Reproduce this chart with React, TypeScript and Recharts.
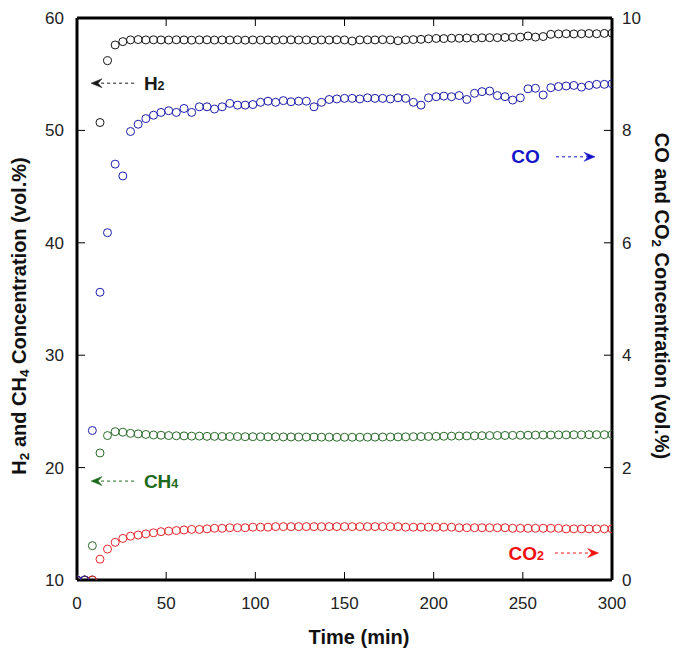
import React from 'react';
import { ScatterChart, Scatter, XAxis, YAxis, ReferenceLine, ReferenceDot } from 'recharts';

// Time (min)
const time = [0, 4.3, 8.6, 12.9, 17.1, 21.4, 25.7, 30, 34.3, 38.6, 42.9, 47.1, 51.4, 55.7, 60, 64.3, 68.6, 72.9, 77.1, 81.4, 85.7, 90, 94.3, 98.6, 102.9, 107.1, 111.4, 115.7, 120, 124.3, 128.6, 132.9, 137.1, 141.4, 145.7, 150, 154.3, 158.6, 162.9, 167.1, 171.4, 175.7, 180, 184.3, 188.6, 192.9, 197.1, 201.4, 205.7, 210, 214.3, 218.6, 222.9, 227.1, 231.4, 235.7, 240, 244.3, 248.6, 252.9, 257.1, 261.4, 265.7, 270, 274.3, 278.6, 282.9, 287.1, 291.4, 295.7, 300];

// H2 (vol.%) - left axis
const h2 = [10, 10, 10,
  50.7, 56.2, 57.6, 57.9,
  58.05, 58.08, 58.05, 58.06, 58.05, 58.04, 58.06, 58.05, 58.03, 58.05, 58.06, 58.04, 58.05, 58.04, 58.06, 58.03, 58.05,
  58.04, 58.05, 58.03, 58.05, 58.06, 58.04, 58.05, 58.02, 58.05, 58.04, 58.06, 58.05,
  57.95, 58.05, 58.06, 58.05, 58.07, 58.05, 57.98, 58.06, 58.08, 58.1,
  58.15, 58.18, 58.17, 58.2, 58.2, 58.22, 58.2, 58.24, 58.25, 58.25,
  58.27, 58.28, 58.3, 58.4, 58.3, 58.35, 58.55,
  58.58, 58.6, 58.58, 58.6, 58.62, 58.6, 58.63, 58.65];

// CH4 (vol.%) - left axis
const ch4 = [10, 10, 13.05,
  21.3, 22.85, 23.2, 23.15,
  23.05, 23.0, 22.95, 22.9, 22.88, 22.85, 22.83, 22.82, 22.8, 22.8, 22.78, 22.78, 22.77, 22.76, 22.76, 22.75, 22.75,
  22.75, 22.74, 22.74, 22.73, 22.73, 22.72, 22.72, 22.72, 22.71, 22.71, 22.7, 22.7,
  22.7, 22.7, 22.71, 22.71, 22.72, 22.72, 22.73, 22.74, 22.75, 22.76,
  22.77, 22.78, 22.79, 22.8, 22.81, 22.82, 22.83, 22.84, 22.85, 22.86,
  22.86, 22.87, 22.88, 22.88, 22.89, 22.9, 22.9,
  22.91, 22.91, 22.92, 22.92, 22.93, 22.93, 22.93, 22.94];

// CO (vol.%) - right axis
const co = [0, 0, 2.66,
  5.12, 6.18, 7.4, 7.19,
  7.98, 8.11, 8.21, 8.27, 8.32, 8.35, 8.32, 8.39, 8.32, 8.42, 8.42, 8.38, 8.42, 8.48, 8.45, 8.45, 8.46,
  8.5, 8.52, 8.5, 8.53, 8.51, 8.52, 8.52, 8.42, 8.5, 8.55, 8.56, 8.57,
  8.57, 8.56, 8.58, 8.57, 8.57, 8.56, 8.58, 8.57, 8.5, 8.45,
  8.58, 8.6, 8.61, 8.6, 8.62, 8.55, 8.66, 8.69, 8.7, 8.62,
  8.6, 8.54, 8.58, 8.74, 8.75, 8.63, 8.76,
  8.78, 8.79, 8.8, 8.77, 8.8, 8.82, 8.82, 8.83];

// CO2 (vol.%) - right axis
const co2 = [0, 0, 0,
  0.37, 0.55, 0.67, 0.74,
  0.78, 0.8, 0.82, 0.84, 0.86, 0.87, 0.88, 0.89, 0.9, 0.9, 0.91, 0.92, 0.92, 0.93, 0.93, 0.93, 0.94,
  0.94, 0.94, 0.95, 0.95, 0.95, 0.95, 0.95, 0.95, 0.95, 0.95, 0.95, 0.95,
  0.95, 0.95, 0.95, 0.95, 0.95, 0.95, 0.95, 0.94, 0.94, 0.94,
  0.94, 0.94, 0.94, 0.94, 0.93, 0.93, 0.93, 0.93, 0.93, 0.93,
  0.93, 0.92, 0.92, 0.92, 0.92, 0.92, 0.92,
  0.92, 0.91, 0.91, 0.91, 0.91, 0.91, 0.91, 0.91];

const xTicks = [0, 50, 100, 150, 200, 250, 300];
const leftTicks = [10, 20, 30, 40, 50, 60];
const rightTicks = [0, 2, 4, 6, 8, 10];

const FONT = '"Liberation Sans", Arial, Helvetica, sans-serif';

const toPoints = (vals: number[]) => time.map((t, i) => ({ t, v: vals[i] }));

const ring = (color: string) => (props: any) => (
  <circle cx={props.cx} cy={props.cy} r={4} fill="none" stroke={color} strokeWidth={1} />
);

type Anno = {
  axis: string; y: number; tail: number; head: number;
  textT: number; textY: number; main: string; sub: string; color: string; arrowColor: string;
};

const annotations: Anno[] = [
  { axis: 'left', y: 54.2, tail: 32, head: 7.9, textT: 37.5, textY: 54.2, main: 'H', sub: '2', color: '#1a1a1a', arrowColor: '#1a1a1a' },
  { axis: 'right', y: 7.53, tail: 268.6, head: 290.5, textT: 243.5, textY: 7.53, main: 'CO', sub: '', color: '#1414c8', arrowColor: '#1414c8' },
  { axis: 'left', y: 18.8, tail: 32, head: 7.9, textT: 37.5, textY: 18.8, main: 'CH', sub: '4', color: '#1c6a1c', arrowColor: '#1c6a1c' },
  { axis: 'right', y: 0.48, tail: 268, head: 292.5, textT: 242, textY: 0.48, main: 'CO', sub: '2', color: '#f01010', arrowColor: '#f01010' },
];

const arrowShape = (color: string) => (p: any) => {
  const { x1, y1, x2, y2 } = p;
  const dir = x2 > x1 ? 1 : -1;
  const L = 11;
  const pts = [
    [x2, y2],
    [x2 - dir * L, y2 - 4.5],
    [x2 - dir * (L - 4), y2],
    [x2 - dir * L, y2 + 4.5],
  ].map((q) => q.join(',')).join(' ');
  return (
    <g>
      <line x1={x1} y1={y1} x2={x2 - dir * 6} y2={y2} stroke={color} strokeWidth={1} strokeDasharray="3 3" />
      <polygon points={pts} fill={color} stroke={color} strokeWidth={0.5} />
    </g>
  );
};

const textShape = (a: Anno) => (p: any) => (
  <text x={p.cx} y={p.cy} dominantBaseline="central" fontFamily={FONT} fontWeight="bold" fontSize={19} fill={a.color}>
    {a.main}
    {a.sub ? <tspan fontSize={12.5} dy={3}>{a.sub}</tspan> : null}
  </text>
);

const tickStyle = { fill: '#222', fontSize: 17, fontFamily: FONT };
const axisLineStyle = { stroke: '#000', strokeWidth: 3 };
const tickLineStyle = { stroke: '#000', strokeWidth: 1 };

const titleStyle: React.CSSProperties = {
  position: 'absolute',
  fontFamily: FONT,
  fontWeight: 'bold',
  fontSize: 20,
  color: '#111',
  whiteSpace: 'nowrap',
  lineHeight: 1,
};

const Sub = ({ children }: { children: React.ReactNode }) => (
  <span style={{ fontSize: '0.68em', position: 'relative', top: '0.22em' }}>{children}</span>
);

export default function App() {
  return (
    <div style={{ position: 'absolute', left: 0, top: 0, width: 683, height: 662, background: '#fff' }}>
      <ScatterChart width={683} height={662} margin={{ top: 0, right: 0, bottom: 0, left: 0 }}>
        <XAxis
          xAxisId="bottom" dataKey="t" type="number" domain={[0, 300]} ticks={xTicks}
          orientation="bottom" height={82} tickSize={-8} tickMargin={25}
          axisLine={axisLineStyle} tickLine={tickLineStyle} tick={tickStyle} allowDataOverflow
        />
        <XAxis
          xAxisId="top" dataKey="t" type="number" domain={[0, 300]} ticks={xTicks}
          orientation="top" height={18} tickSize={-8} tickFormatter={() => ''}
          axisLine={axisLineStyle} tickLine={tickLineStyle} tick={tickStyle} allowDataOverflow
        />
        <YAxis
          yAxisId="left" dataKey="v" type="number" domain={[10, 60]} ticks={leftTicks}
          orientation="left" width={77} tickSize={-8} tickMargin={21}
          axisLine={axisLineStyle} tickLine={tickLineStyle} tick={tickStyle} allowDataOverflow
        />
        <YAxis
          yAxisId="right" dataKey="v" type="number" domain={[0, 10]} ticks={rightTicks}
          orientation="right" width={71} tickSize={-8} tickMargin={18}
          axisLine={axisLineStyle} tickLine={tickLineStyle} tick={tickStyle} allowDataOverflow
        />
        <Scatter name="H2" data={toPoints(h2)} xAxisId="bottom" yAxisId="left" shape={ring('#141414')} isAnimationActive={false} />
        <Scatter name="CH4" data={toPoints(ch4)} xAxisId="bottom" yAxisId="left" shape={ring('#2a6b2a')} isAnimationActive={false} />
        <Scatter name="CO2" data={toPoints(co2)} xAxisId="bottom" yAxisId="right" shape={ring('#e3262a')} isAnimationActive={false} />
        <Scatter name="CO" data={toPoints(co)} xAxisId="bottom" yAxisId="right" shape={ring('#1c1caa')} isAnimationActive={false} />
        {annotations.map((a, i) => (
          <ReferenceLine
            key={'al' + i}
            xAxisId="bottom"
            yAxisId={a.axis}
            segment={[{ x: a.tail, y: a.y }, { x: a.head, y: a.y }]}
            shape={arrowShape(a.arrowColor)}
            ifOverflow="visible"
          />
        ))}
        {annotations.map((a, i) => (
          <ReferenceDot
            key={'at' + i}
            xAxisId="bottom"
            yAxisId={a.axis}
            x={a.textT}
            y={a.textY}
            r={0}
            shape={textShape(a)}
            ifOverflow="visible"
          />
        ))}
      </ScatterChart>
      <div style={{ ...titleStyle, left: 19, top: 316, transform: 'translate(-50%, -50%) rotate(-90deg)' }}>
        H<Sub>2</Sub> and CH<Sub>4</Sub> Concentration (vol.%)
      </div>
      <div style={{ ...titleStyle, left: 662, top: 296, transform: 'translate(-50%, -50%) rotate(90deg)' }}>
        CO and CO<Sub>2</Sub> Concentration (vol.%)
      </div>
      <div style={{ ...titleStyle, left: 359, top: 637, transform: 'translate(-50%, -50%)' }}>
        Time (min)
      </div>
    </div>
  );
}
